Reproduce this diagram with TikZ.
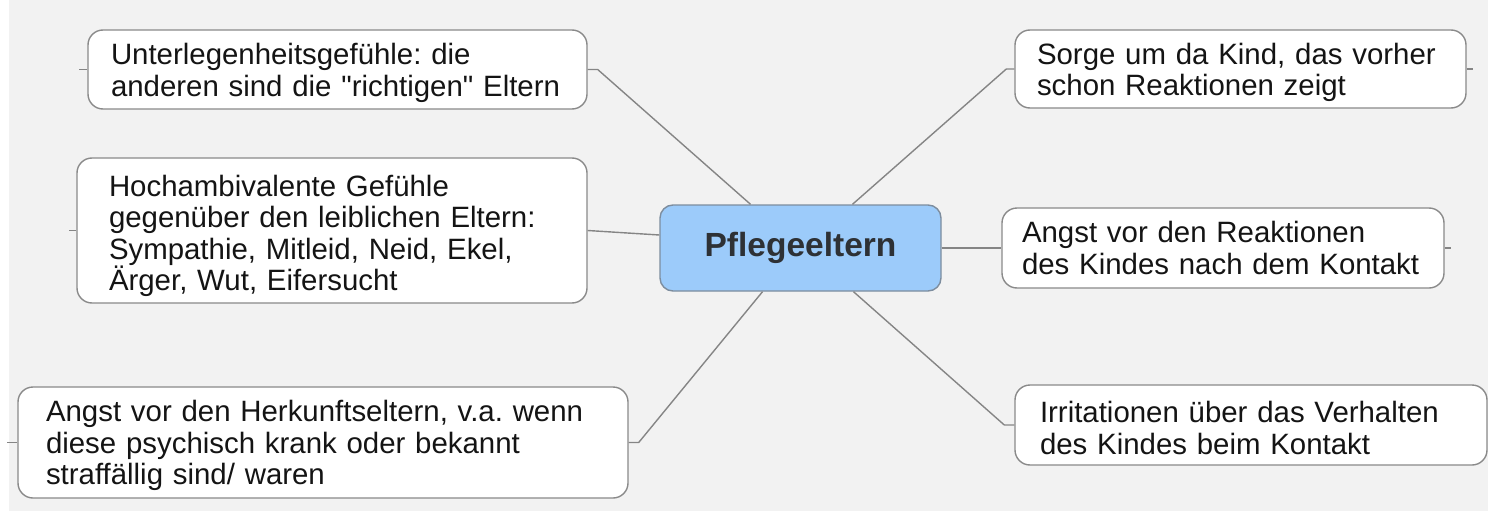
\documentclass[tikz,border=0pt]{standalone}
\usepackage{fontspec}
\setmainfont{Liberation Sans}[Ligatures=TeXOff]
\usetikzlibrary{calc}
\frenchspacing
\definecolor{bg}{HTML}{F2F2F2}
\definecolor{linec}{HTML}{858585}
\definecolor{boxline}{HTML}{8A8A8A}
\definecolor{cfill}{HTML}{9CCBFA}
\definecolor{cline}{HTML}{7D8D9E}
\definecolor{txt}{HTML}{141414}
\definecolor{ctxt}{HTML}{2E3135}
\newcommand\dnshift[1]{\rule{0pt}{\dimexpr 0.74em+#1pt+#1pt\relax}}
\begin{document}
\begin{tikzpicture}[x=1pt,y=-1pt,
  topic/.style={draw=boxline, line width=1.4pt, fill=white, rounded corners=15pt,
    align=left, text=txt, inner ysep=0pt,
    font=\fontsize{29.4}{31.5}\selectfont},
  central/.style={draw=cline, line width=1.4pt, fill=cfill, rounded corners=13pt,
    text=ctxt, font=\fontsize{33.5}{38}\selectfont\bfseries,
    minimum width=281pt, minimum height=86pt, inner sep=0pt},
  conn/.style={draw=linec, line width=1.4pt},
]
\useasboundingbox (0,0) rectangle (1488,511);
\fill[bg] (0,0) rectangle (1488,511);
\fill[white] (0,0) rectangle (9,511);

\node[central] (c) at (800.5,248) {Pflegeeltern};

\node[topic, minimum width=499pt, minimum height=79pt, inner xsep=23pt, text width=453pt] (tl) at (337.5,69.5)
  {\dnshift{3}Unterlegenheitsgefühle: die\\anderen sind die "richtigen" Eltern};
\node[topic, minimum width=510pt, minimum height=145pt, inner xsep=32pt, text width=446pt] (ml) at (332,230.5)
  {\dnshift{5}Hochambivalente Gefühle\\gegenüber den leiblichen Eltern:\\Sympathie, Mitleid, Neid, Ekel,\\Ärger, Wut, Eifersucht};
\node[topic, minimum width=610pt, minimum height=111pt, inner xsep=28pt, text width=554pt] (bl) at (323,442.5)
  {\dnshift{3}Angst vor den Herkunftseltern, v.a. wenn\\diese psychisch krank oder bekannt\\straffällig sind/ waren};
\node[topic, minimum width=451pt, minimum height=78pt, inner xsep=22pt, text width=407pt] (tr) at (1240.5,69)
  {\dnshift{3}Sorge um da Kind, das vorher\\schon Reaktionen zeigt};
\node[topic, minimum width=442pt, minimum height=80pt, inner xsep=20pt, text width=402pt] (mr) at (1223,248)
  {Angst vor den Reaktionen\\des Kindes nach dem Kontakt};
\node[topic, minimum width=472pt, minimum height=80pt, inner xsep=25pt, text width=422pt] (br) at (1251,425)
  {\dnshift{3}Irritationen über das Verhalten\\des Kindes beim Kontakt};

% connectors
\draw[conn] (tl.east) -- ++(10,0) -- ($(c.north)+(-50,0)$);
\draw[conn] (ml.east) -- ($(c.west)+(0,-13)$);
\draw[conn] (bl.east) -- ++(10,0) -- ($(c.south)+(-38,0)$);
\draw[conn] ($(c.north)+(52,0)$) -- ($(tr.west)+(-8,0)$) -- (tr.west);
\draw[conn] (c.east) -- (mr.west);
\draw[conn] ($(c.south)+(53,0)$) -- ($(br.west)+(-10,0)$) -- (br.west);

% stubs
\draw[conn] (tl.west) -- ++(-8,0);
\draw[conn] (ml.west) -- ++(-7,0);
\draw[conn] (bl.west) -- ++(-10,0);
\draw[conn] (tr.east) -- ++(6,0);
\draw[conn] (mr.east) -- ++(6,0);
\end{tikzpicture}
\end{document}
